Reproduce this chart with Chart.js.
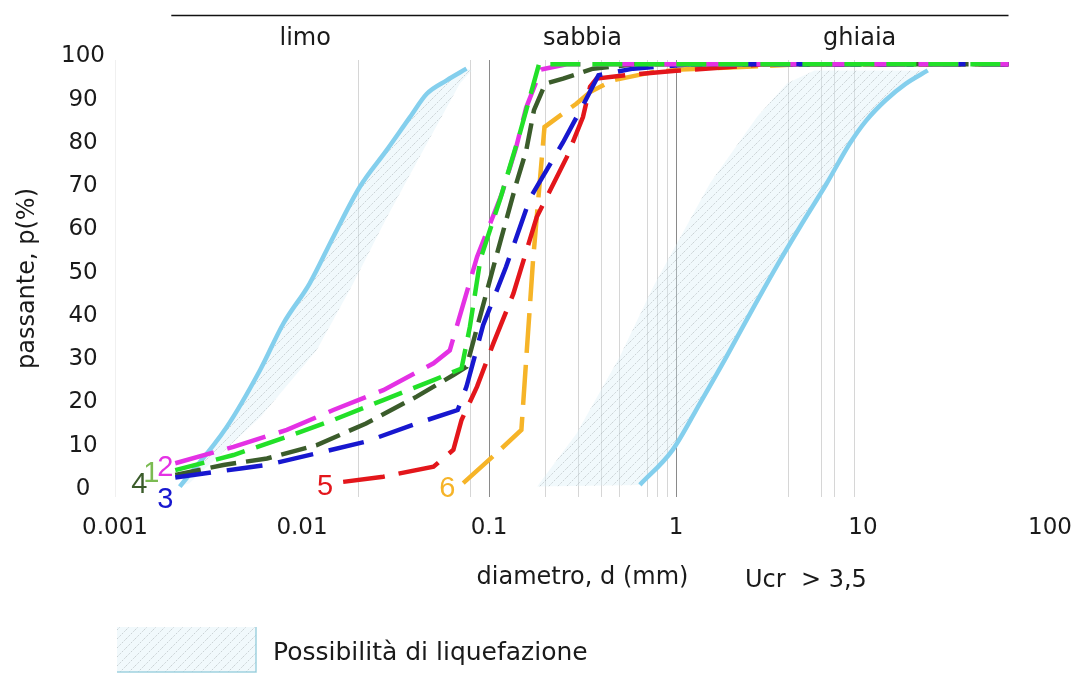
<!DOCTYPE html>
<html>
<head>
<meta charset="utf-8">
<script src="https://cdn.jsdelivr.net/npm/chart.js@4"></script>
<style>
  html, body { margin: 0; padding: 0; background: #fff; }
  canvas { display: block; }
</style>
</head>
<body>
<canvas id="chart" width="1075" height="678"></canvas>
<script>
// grain size curves, [diametro mm, passante %]
const seriesNames = ['1', '2', '3', '4', '5', '6'];

const curve1 = [
  [0.0021, 6.2], [0.0043, 9.7], [0.0083, 13.9], [0.0147, 17.8], [0.0272, 22.4], [0.0505, 27],
  [0.0713, 29.7], [0.079, 39.3], [0.09, 55], [0.115, 69], [0.146, 84], [0.185, 100], [60, 100]
];
const curve2 = [
  [0.0021, 7.8], [0.0043, 11.6], [0.0083, 15.5], [0.0147, 20.1], [0.0272, 24.7], [0.0505, 30.9],
  [0.0617, 33.9], [0.0863, 55.5], [0.117, 70], [0.14, 81], [0.158, 90], [0.19, 98.8], [0.26, 100], [60, 100]
];
const curve3 = [
  [0.0021, 4.5], [0.0047, 6.6], [0.0065, 7.4], [0.012, 10.1], [0.022, 12.8], [0.041, 17], [0.068, 20.1],
  [0.0758, 25.5], [0.093, 39.7], [0.1234, 53.2], [0.1656, 69], [0.249, 82], [0.318, 90.5],
  [0.385, 97.5], [0.59, 99], [1.2, 100], [60, 100]
];
const curve4 = [
  [0.0021, 5.1], [0.0038, 7.4], [0.0065, 8.9], [0.012, 12], [0.022, 17], [0.041, 23.2], [0.0645, 28.2],
  [0.0758, 30.1], [0.1092, 55.5], [0.14, 72.5], [0.158, 80], [0.174, 89.4], [0.2, 95.5], [0.249, 96.7],
  [0.36, 99], [0.6, 100], [60, 100]
];
const curve5 = [
  [0.0166, 3.5], [0.0272, 4.7], [0.0505, 7], [0.0645, 10.9], [0.0713, 17.8], [0.0863, 25.5],
  [0.1055, 35.5], [0.135, 47], [0.18, 64.7], [0.261, 78.6], [0.318, 87.8], [0.347, 94.8],
  [0.376, 96.7], [0.54, 97.5], [1, 98.5], [3, 100], [60, 100]
];
const curve6 = [
  [0.0728, 3.2], [0.112, 10.5], [0.149, 15.5], [0.158, 31.6], [0.172, 54.7], [0.198, 85.5],
  [0.293, 90.9], [0.347, 93.6], [0.46, 96.3], [0.75, 98.2], [1.07, 98.8], [4.6, 100], [60, 100]
];

// limits of the liquefaction zone
const limitFine = [
  [0.00222, 2.4], [0.00396, 16.2], [0.00596, 29.3], [0.00795, 40.1], [0.011, 49.4], [0.0147, 60.1],
  [0.0204, 71.7], [0.0283, 80.1], [0.0378, 87.8], [0.0465, 93.2], [0.0594, 96.3], [0.0758, 99]
];
const limitCoarse = [
  [0.641, 2.8], [0.96, 10.9], [1.34, 21.6], [1.86, 32.4], [2.49, 42.4], [3.44, 53.2], [4.6, 62.4],
  [6.38, 72.4], [8.5, 81.7], [10.4, 87], [13.2, 91.7], [16.9, 95.5], [22.2, 98.6]
];
const bandFineEdge = [
  [0.0025, 3.2], [0.006, 18.5], [0.012, 34], [0.0188, 49.4], [0.0285, 64.7], [0.0444, 80.1],
  [0.07, 95.6], [0.081, 98.6]
];
const bandCoarseEdge = [
  [0.181, 2.4], [0.294, 14.7], [0.5, 32.4], [0.756, 48.6], [0.964, 57], [1.52, 72.5], [2.71, 87.8],
  [3.93, 95.6], [5.5, 98.6]
];
const bandLabel = 'Possibilità di liquefazione';

// axes
const xTickValues = [0.001, 0.01, 0.1, 1, 10, 100];
const xTickLabels = ['0.001', '0.01', '0.1', '1', '10', '100'];
const xMajorLines = [0.1, 1];
const xMinorLines = [0.02, 0.08, 0.2, 0.3, 0.4, 0.5, 0.7, 0.8, 0.9, 4, 6, 7, 9];
const yTickValues = [0, 10, 20, 30, 40, 50, 60, 70, 80, 90, 100];

// soil classes above the plot
const soilClasses = ['limo', 'sabbia', 'ghiaia'];
const soilClassCentres = [0.0104, 0.316, 9.6];
const soilRange = [0.002, 60];
const ucrNote = 'Ucr  > 3,5';

/* ---- styles ---- */

const FONT = '"DejaVu Sans", sans-serif';
const TEXT = '#1a1a1a';

const seriesStyle = [
  { color: '#22e028', dash: [30, 12], tag: '#7bbb52', tagDx: -24, tagDy: 12 },
  { color: '#e431e4', dash: [40, 14], tag: '#e431e4', tagDx: -10, tagDy: 13 },
  { color: '#1717cf', dash: [36, 16], tag: '#1717cf', tagDx: -10, tagDy: 30 },
  { color: '#3b5c2b', dash: [26, 10], tag: '#3b5c2b', tagDx: -36, tagDy: 18 },
  { color: '#e3161b', dash: [42, 14], tag: '#e3161b', tagDx: -18, tagDy: 13 },
  { color: '#f6b428', dash: [40, 12], tag: '#f6b428', tagDx: -16, tagDy: 14 }
];

function makeHatch() {
  const n = 9;
  const c = document.createElement('canvas');
  c.width = n;
  c.height = n;
  const g = c.getContext('2d');
  g.fillStyle = 'rgba(214, 237, 246, 0.35)';
  g.fillRect(0, 0, n, n);
  g.strokeStyle = 'rgba(110, 118, 122, 0.5)';
  g.lineWidth = 0.6;
  g.setLineDash([2, 1.4]);
  g.beginPath();
  g.moveTo(0, n); g.lineTo(n, 0);
  g.moveTo(-1, 1); g.lineTo(1, -1);
  g.moveTo(n - 1, n + 1); g.lineTo(n + 1, n - 1);
  g.stroke();
  return g.createPattern(c, 'repeat');
}

const hatch = makeHatch();
const toPoints = pairs => pairs.map(([x, y]) => ({ x, y }));
const sameValue = (a, b) => Math.abs(Math.log10(a) - Math.log10(b)) < 1e-6;

const datasets = [curve1, curve2, curve3, curve4, curve5, curve6].map((curve, i) => ({
  label: seriesNames[i],
  data: toPoints(curve),
  borderColor: seriesStyle[i].color,
  borderDash: seriesStyle[i].dash,
  borderWidth: 4.5,
  pointRadius: 0,
  tension: 0,
  fill: false
}));

const limitStyle = {
  borderColor: '#84cfed',
  borderWidth: 4.5,
  pointRadius: 0,
  cubicInterpolationMode: 'monotone',
  fill: false
};
const bandStyle = {
  label: bandLabel,
  borderWidth: 0,
  borderColor: 'transparent',
  backgroundColor: hatch,
  pointRadius: 0,
  fill: 'shape'
};

datasets.push(
  { ...limitStyle, label: 'limite fine', data: toPoints(limitFine) },
  { ...limitStyle, label: 'limite grossolano', data: toPoints(limitCoarse) },
  { ...bandStyle, data: toPoints(limitFine.concat(bandFineEdge.slice().reverse())) },
  { ...bandStyle, data: toPoints(bandCoarseEdge.concat(limitCoarse.slice().reverse())) }
);

// texts and legend drawn on top of the plot
const annotations = {
  id: 'annotations',
  afterDraw(chart) {
    const { ctx, scales: { x, y } } = chart;
    ctx.save();

    // soil class bar
    ctx.strokeStyle = '#111';
    ctx.lineWidth = 1.5;
    ctx.beginPath();
    ctx.moveTo(x.getPixelForValue(soilRange[0]), 15.5);
    ctx.lineTo(x.getPixelForValue(soilRange[1]), 15.5);
    ctx.stroke();

    ctx.fillStyle = TEXT;
    ctx.font = '24px ' + FONT;
    ctx.textAlign = 'center';
    ctx.textBaseline = 'alphabetic';
    soilClasses.forEach((name, i) => {
      ctx.fillText(name, x.getPixelForValue(soilClassCentres[i]), 45);
    });

    // curve numbers
    ctx.font = '29px "Liberation Sans", Arial, sans-serif';
    [curve1, curve2, curve3, curve4, curve5, curve6].forEach((curve, i) => {
      const s = seriesStyle[i];
      ctx.fillStyle = s.tag;
      ctx.fillText(seriesNames[i],
        x.getPixelForValue(curve[0][0]) + s.tagDx,
        y.getPixelForValue(curve[0][1]) + s.tagDy);
    });

    // uniformity note beside the axis title
    ctx.fillStyle = TEXT;
    ctx.font = '24px ' + FONT;
    ctx.textAlign = 'left';
    ctx.fillText(ucrNote, 745, 587);

    // legend
    ctx.fillStyle = hatch;
    ctx.fillRect(117, 627, 139, 45);
    ctx.strokeStyle = 'rgba(150, 205, 220, 0.9)';
    ctx.lineWidth = 1.5;
    ctx.beginPath();
    ctx.moveTo(256, 627); ctx.lineTo(256, 672); ctx.lineTo(117, 672);
    ctx.stroke();
    ctx.fillStyle = TEXT;
    ctx.font = '25px ' + FONT;
    ctx.fillText(bandLabel, 273, 660);

    ctx.restore();
  }
};

new Chart(document.getElementById('chart'), {
  type: 'line',
  data: { datasets },
  options: {
    responsive: false,
    animation: false,
    events: [],
    layout: { padding: { top: 60, right: 25, left: 0, bottom: 0 } },
    plugins: {
      legend: { display: false },
      tooltip: { enabled: false }
    },
    scales: {
      x: {
        type: 'logarithmic',
        min: 0.001,
        max: 100,
        afterBuildTicks: scale => {
          scale.ticks = xTickValues.concat(xMajorLines, xMinorLines)
            .filter((v, i, all) => all.findIndex(w => sameValue(v, w)) === i)
            .sort((a, b) => a - b)
            .map(value => ({ value }));
        },
        afterFit: scale => { scale.height = 181; },
        ticks: {
          autoSkip: false,
          maxRotation: 0,
          padding: 0,
          color: TEXT,
          font: { family: FONT, size: 23 },
          callback: value => {
            const i = xTickValues.findIndex(v => sameValue(v, value));
            return i >= 0 ? xTickLabels[i] : '';
          }
        },
        grid: {
          drawTicks: true,
          tickLength: 17,
          tickColor: 'transparent',
          lineWidth: 1,
          color: ctx => {
            const v = ctx.tick && ctx.tick.value;
            if (v === undefined) return 'transparent';
            if (xMajorLines.some(w => sameValue(v, w))) return '#8a8a8a';
            if (xMinorLines.some(w => sameValue(v, w))) return '#d6d6d6';
            if (sameValue(v, 0.001)) return '#f0f0f0';
            return 'transparent';
          }
        },
        border: { display: false },
        title: {
          display: true,
          text: 'diametro, d (mm)',
          color: TEXT,
          font: { family: FONT, size: 24 },
          padding: { top: 0, bottom: 86 }
        }
      },
      y: {
        min: 0,
        max: 101,
        afterBuildTicks: scale => {
          scale.ticks = yTickValues.map(value => ({ value }));
        },
        afterFit: scale => { scale.width = 115; },
        ticks: {
          padding: 10,
          crossAlign: 'center',
          labelOffset: -8,
          color: TEXT,
          font: { family: FONT, size: 23 }
        },
        grid: { display: false, drawTicks: false, tickLength: 0 },
        border: { display: false },
        title: {
          display: true,
          text: 'passante, p(%)',
          color: TEXT,
          font: { family: FONT, size: 24 },
          padding: { top: 13, bottom: 0 }
        }
      }
    }
  },
  plugins: [annotations]
});
</script>
</body>
</html>
